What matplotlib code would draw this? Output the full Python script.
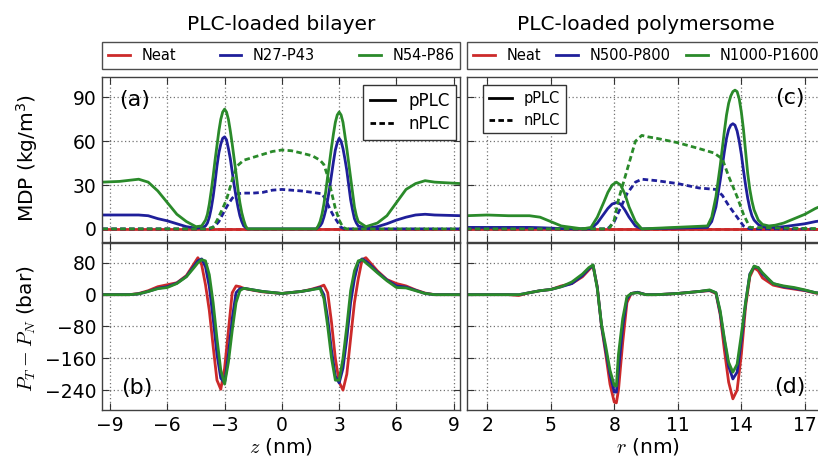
import matplotlib
matplotlib.use("Agg")
import matplotlib.pyplot as plt
from matplotlib.lines import Line2D

plt.rcParams['mathtext.fontset'] = 'cm'

# colours used in the paper figure
RED = '#cc2a2a'
BLUE = '#1f1f9a'
GREEN = '#2a8a2a'
DASH = (0, (2, 1.2))

# ---------------- (a) bilayer mass density profile ----------------
neat_a_x = [-9.4, 9.4]
neat_a_y = [0, 0]

z_a = [-9.4, -8.5, -7.5, -7.0, -6.5, -6.0, -5.5, -5.0, -4.5, -4.2,
       -4.0, -3.9, -3.8, -3.7, -3.6, -3.5, -3.4, -3.3, -3.2, -3.1, -3.0, -2.9, -2.8, -2.7, -2.6,
       -2.5, -2.4, -2.3, -2.2, -2.1, -2.0, -1.9, -1.8,
       1.8, 1.9, 2.0, 2.1, 2.2, 2.3, 2.4, 2.5, 2.6, 2.7, 2.8, 2.9, 3.0, 3.1, 3.2, 3.3,
       3.4, 3.5, 3.6, 3.7, 3.8, 3.9, 4.0,
       4.4, 5.0, 5.5, 6.0, 6.5, 7.0, 7.5, 8.0, 9.4]
n27_p_y = [9.5, 9.5, 9.5, 9, 7, 5.5, 3.5, 1.5, 0.5, 0.8,
           2, 4, 8, 14, 22, 32, 43, 52, 58, 62, 63, 61, 55, 48, 39,
           30, 22, 15, 9, 5, 2, 1, 0,
           0, 1, 2, 4, 8, 13, 20, 28, 37, 46, 54, 59, 62, 60, 55, 48,
           40, 30, 20, 13, 7, 4, 2,
           0.5, 1.5, 3.5, 6, 8, 9.5, 10, 9.5, 9]
n54_p_y = [32, 32.5, 34, 32, 26, 18, 10, 5, 1.5, 2,
           6, 10, 17, 26, 36, 47, 57, 67, 75, 80, 82, 80, 75, 67, 58,
           48, 38, 27, 18, 11, 6, 2, 0,
           0, 2, 5, 10, 17, 26, 36, 46, 56, 65, 73, 78, 80, 78, 73, 64,
           55, 45, 35, 25, 15, 9, 5,
           1.5, 4, 9, 18, 27, 31, 33, 32, 31]

n27_n_x = [-9.4, -3.8, -3.5, -3.3, -3.1, -2.85, -2.6, -2.35, -2.0, -1.5, -1.0, -0.5, 0.0, 0.5, 1.0,
           1.6, 2.1, 2.3, 2.5, 2.7, 2.9, 3.1, 3.3, 9.4]
n27_n_y = [0, 0, 2, 5, 10, 16, 21, 24, 24.5, 24.5, 25, 26.5, 27, 26.5, 26,
           25, 24, 20, 14, 9, 5, 1, 0, 0]

n54_n_x = [-9.4, -4.0, -3.6, -3.35, -3.1, -2.9, -2.7, -2.55, -2.35, -2.0, -1.5, -1.0, -0.5, 0.0, 0.5,
           1.0, 1.6, 2.0, 2.2, 2.4, 2.6, 2.8, 3.0, 3.2, 3.4, 9.4]
n54_n_y = [0, 0, 1, 7, 14, 20, 29, 36, 43, 47, 49, 51, 53, 54, 53.5,
           52, 50, 47, 44, 36, 25, 14, 6, 1, 0, 0]

# ---------------- (b) bilayer pressure difference ----------------
z_b = [-9.4, -8.0, -7.5, -7.0, -6.5, -6.0, -5.5, -5.0, -4.6, -4.4, -4.2, -4.0, -3.8, -3.6, -3.4,
       -3.2, -3.0, -2.8, -2.6, -2.4, -2.2, -2.0, -1.5, -1.0, 0.0, 1.0, 1.5, 2.0, 2.2, 2.4,
       2.6, 2.8, 3.0, 3.2, 3.4, 3.6, 3.8, 4.0, 4.2, 4.4, 4.6, 5.0, 5.5, 6.0, 6.5, 7.0, 7.5, 8.0, 9.4]
neat_b = [0, 0, 3, 10, 20, 25, 30, 48, 78, 93, 75, 25, -40, -130, -215,
          -238, -185, -90, 5, 22, 20, 16, 11, 7, 3, 8, 13, 20, 24, 5,
          -70, -160, -220, -240, -200, -110, -20, 40, 88, 93, 82, 60, 38, 28, 22, 12, 4, 0, 0]
n27_b = [0, 0, 2, 8, 16, 20, 29, 46, 72, 85, 90, 70, 20, -60, -150,
         -210, -222, -150, -60, 5, 15, 16, 12, 8, 3, 8, 12, 18, 0, -60,
         -140, -205, -222, -185, -110, -20, 40, 80, 90, 84, 76, 57, 37, 22, 19, 11, 3, 0, 0]
n54_b = [0, 0, 2, 8, 15, 18, 28, 45, 68, 80, 88, 85, 50, -20, -110,
         -190, -225, -170, -90, -20, 10, 16, 12, 8, 3, 8, 12, 16, -10, -80,
         -160, -215, -215, -160, -80, 10, 60, 85, 88, 80, 72, 55, 35, 18, 17, 10, 3, 0, 0]

# ---------------- (c) polymersome mass density profile ----------------
neat_c_x = [1.0, 18.0]
neat_c_y = [0, 0]

r_c = [1.0, 2.0, 3.0, 4.0, 4.5, 5.0, 5.5, 6.0, 6.5, 6.9,
       7.2, 7.5, 7.7, 7.9, 8.1, 8.3, 8.5, 8.7, 9.0, 9.3,
       12.4, 12.6, 12.8,
       13.0, 13.1, 13.2, 13.3, 13.4, 13.5, 13.6, 13.7, 13.8, 13.9, 14.0, 14.1, 14.2, 14.3, 14.4,
       14.5, 14.6,
       14.8, 15.0, 15.3, 15.6, 16.0, 16.5, 17.0, 17.5, 18.0]
n500_p_y = [1, 1, 1, 1, 0.8, 0.5, 0.2, 0, 0, 0,
            4, 10, 14, 17, 18, 17, 13, 8, 2, 0,
            1, 5, 15,
            33, 43, 53, 62, 68, 71, 72, 71, 67, 60, 51, 40, 30, 21, 14,
            9, 6,
            3, 1.5, 1, 1, 1.5, 2.5, 3.5, 5, 6]
n1000_p_y = [9, 9.5, 9, 9, 8, 5, 2, 1, 0, 1,
             8, 18, 25, 30, 32, 30, 24, 15, 5, 0,
             2, 8, 22,
             43, 55, 67, 78, 86, 91, 94, 95, 94, 89, 80, 68, 53, 38, 27,
             19, 13,
             6, 3, 2, 2.5, 4, 7, 10, 14, 17]

n500_n_x = [1.0, 7.7, 8.0, 8.35, 8.6, 9.0, 9.3, 10.0, 11.0, 12.0, 12.8, 13.1, 13.4, 13.8, 14.1,
            14.4, 18.0]
n500_n_y = [0, 0, 5, 16, 24, 32, 34, 33, 31, 28, 27, 23, 16, 8, 2,
            0, 0]

n1000_n_x = [1.0, 7.5, 7.8, 8.0, 8.2, 8.4, 8.7, 9.0, 9.3, 9.6, 10.0, 11.0, 12.0, 12.7, 13.1,
             13.4, 13.8, 14.1, 14.4, 18.0]
n1000_n_y = [0, 0, 1, 6, 20, 30, 45, 60, 64, 63, 62, 59, 55, 52, 48,
             36, 22, 10, 1, 0]

# ---------------- (d) polymersome pressure difference ----------------
r_d = [1.0, 2.0, 3.0, 3.5, 4.0, 4.5, 5.0, 5.5, 6.0, 6.5, 6.8, 7.0, 7.2, 7.4, 7.6,
       7.8, 8.0, 8.1, 8.2, 8.4, 8.6, 8.8, 9.1, 9.5, 10.0, 11.0, 12.0, 12.5, 12.8, 13.0,
       13.2, 13.4, 13.6, 13.8, 14.0, 14.2, 14.4, 14.6, 14.8, 15.0, 15.5, 16.0, 16.5, 17.0,
       17.5, 18.0]
neat_d = [0, 0, 0, -2, 5, 10, 13, 22, 28, 45, 62, 73, 20, -80, -150,
          -225, -270, -272, -240, -120, -20, 3, 6, 0, 0, 3, 8, 10, 3, -50,
          -140, -220, -262, -240, -150, -30, 45, 68, 60, 42, 24, 18, 14, 10,
          4, 2]
n500_d = [0, 0, 0, 0, 5, 10, 13, 20, 28, 48, 65, 74, 18, -78, -140,
          -200, -245, -245, -190, -80, -10, 3, 6, 0, 0, 3, 8, 11, 5, -45,
          -115, -180, -212, -195, -115, -20, 52, 70, 68, 52, 28, 20, 16, 11,
          5, 2]
n1000_d = [0, 0, 0, 0, 5, 10, 13, 20, 32, 52, 68, 75, 15, -75, -130,
           -190, -228, -230, -150, -60, -5, 3, 5, 0, 0, 3, 8, 12, 5, -40,
           -110, -170, -195, -175, -100, -20, 50, 72, 68, 55, 28, 22, 18, 12,
           5, 2]

fig = plt.figure(figsize=(8.18, 4.63), dpi=100)
ax_a = fig.add_axes([0.1247, 0.4773, 0.4377, 0.3564])
ax_b = fig.add_axes([0.1247, 0.1145, 0.4377, 0.3607])
ax_c = fig.add_axes([0.5709, 0.4773, 0.4377, 0.3564])
ax_d = fig.add_axes([0.5709, 0.1145, 0.4377, 0.3607])

# top panels: solid = pPLC, dashed = nPLC
ax_a.plot(neat_a_x, neat_a_y, color=RED, lw=2)
ax_a.plot(neat_a_x, neat_a_y, color=RED, lw=2, ls=DASH)
ax_a.plot(z_a, n27_p_y, color=BLUE, lw=2)
ax_a.plot(n27_n_x, n27_n_y, color=BLUE, lw=2, ls=DASH)
ax_a.plot(z_a, n54_p_y, color=GREEN, lw=2)
ax_a.plot(n54_n_x, n54_n_y, color=GREEN, lw=2, ls=DASH)

ax_c.plot(neat_c_x, neat_c_y, color=RED, lw=2)
ax_c.plot(neat_c_x, neat_c_y, color=RED, lw=2, ls=DASH)
ax_c.plot(r_c, n500_p_y, color=BLUE, lw=2)
ax_c.plot(n500_n_x, n500_n_y, color=BLUE, lw=2, ls=DASH)
ax_c.plot(r_c, n1000_p_y, color=GREEN, lw=2)
ax_c.plot(n1000_n_x, n1000_n_y, color=GREEN, lw=2, ls=DASH)

ax_b.plot(z_b, neat_b, color=RED, lw=2)
ax_b.plot(z_b, n27_b, color=BLUE, lw=2)
ax_b.plot(z_b, n54_b, color=GREEN, lw=2)

ax_d.plot(r_d, neat_d, color=RED, lw=2)
ax_d.plot(r_d, n500_d, color=BLUE, lw=2)
ax_d.plot(r_d, n1000_d, color=GREEN, lw=2)

for ax in (ax_a, ax_b, ax_c, ax_d):
    ax.set_axisbelow(True)
    ax.grid(True, color='0.45', lw=0.9, ls=(0, (1, 2)))
    ax.tick_params(direction='in', top=True, right=True, length=5, width=0.8,
                   color='0.2', labelsize=13.5, pad=4)
    for sp in ax.spines.values():
        sp.set_color('0.25')
        sp.set_linewidth(1)

for ax in (ax_a, ax_b):
    ax.set_xlim(-9.42, 9.33)
    ax.set_xticks([-9, -6, -3, 0, 3, 6, 9])
for ax in (ax_c, ax_d):
    ax.set_xlim(1.05, 17.95)
    ax.set_xticks([2, 5, 8, 11, 14, 17])
for ax in (ax_a, ax_c):
    ax.set_ylim(-9, 104)
    ax.set_yticks([0, 30, 60, 90])
    ax.tick_params(labelbottom=False)
for ax in (ax_b, ax_d):
    ax.set_ylim(-290, 130)
    ax.set_yticks([-240, -160, -80, 0, 80])
ax_c.tick_params(labelleft=False)
ax_d.tick_params(labelleft=False)

# panel letters
ax_a.text(0.092, 0.861, '(a)', transform=ax_a.transAxes, fontsize=16, ha='center', va='center')
ax_b.text(0.098, 0.132, '(b)', transform=ax_b.transAxes, fontsize=16, ha='center', va='center')
ax_c.text(0.902, 0.873, '(c)', transform=ax_c.transAxes, fontsize=16, ha='center', va='center')
ax_d.text(0.902, 0.138, '(d)', transform=ax_d.transAxes, fontsize=16, ha='center', va='center')

# line style legends inside the top panels
style_handles = [Line2D([], [], color='k', lw=2),
                 Line2D([], [], color='k', lw=2, ls=DASH)]
leg_a = ax_a.legend(style_handles, ['pPLC', 'nPLC'], loc='upper right',
                    bbox_to_anchor=(0.99, 0.95), borderaxespad=0, fontsize=12,
                    handlelength=1.5, labelspacing=0.3, fancybox=False,
                    edgecolor='0.2', framealpha=1)
leg_a.get_frame().set_linewidth(1)
ax_a.add_artist(leg_a)
leg_c = ax_c.legend(style_handles, ['pPLC', 'nPLC'], loc='upper left',
                    bbox_to_anchor=(0.045, 0.95), borderaxespad=0, fontsize=10.5,
                    handlelength=1.6, labelspacing=0.45, fancybox=False,
                    edgecolor='0.2', framealpha=1)
leg_c.get_frame().set_linewidth(1)
ax_c.add_artist(leg_c)

# series legends above the panels
def series_legend(ax, labels):
    handles = [Line2D([], [], color=c, lw=2) for c in (RED, BLUE, GREEN)]
    leg = ax.legend(handles, labels, loc='lower left', bbox_to_anchor=(0, 1.048, 1, 0.1),
                    mode='expand', ncol=3, borderaxespad=0, fontsize=10.5,
                    handlelength=1.5, fancybox=False, edgecolor='0.3', framealpha=1)
    leg.get_frame().set_linewidth(1)

series_legend(ax_a, ['Neat', 'N27-P43', 'N54-P86'])
series_legend(ax_c, ['Neat', 'N500-P800', 'N1000-P1600'])

fig.text(0.3435, 0.948, 'PLC-loaded bilayer', fontsize=14.5, ha='center', va='center')
fig.text(0.79, 0.948, 'PLC-loaded polymersome', fontsize=14.5, ha='center', va='center')

fig.text(0.033, 0.659, 'MDP (kg/m$\\mathregular{^3}$)', fontsize=14.5, rotation=90,
         ha='center', va='center')
fig.text(0.033, 0.291, '$P_T - P_N$ (bar)', fontsize=14.5, rotation=90, ha='center', va='center')
fig.text(0.3435, 0.035, '$z$ (nm)', fontsize=14.5, ha='center', va='center')
fig.text(0.792, 0.035, '$r$ (nm)', fontsize=14.5, ha='center', va='center')

fig.savefig('out.png', dpi=100)
